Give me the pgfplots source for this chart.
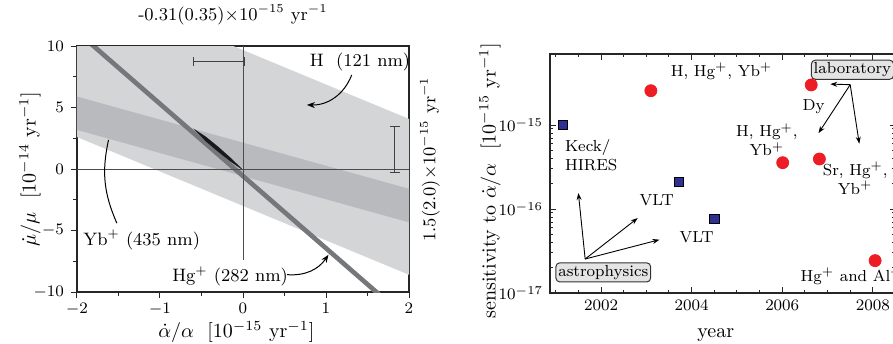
\documentclass[border=0pt]{standalone}
\usepackage{pgfplots}
\pgfplotsset{compat=1.18}
\usetikzlibrary{arrows.meta}
\definecolor{lightband}{HTML}{D4D5D7}
\definecolor{midband}{HTML}{B9BABD}
\definecolor{hgband}{HTML}{76777A}
\definecolor{dotred}{HTML}{EE1C25}
\definecolor{sqblue}{HTML}{2E3192}
\definecolor{boxfill}{HTML}{E4E4E4}
\begin{document}
\begin{tikzpicture}[x=1pt,y=1pt]
\useasboundingbox (0,0) rectangle (446.5,171.5);
% ---------------- left panel ----------------
\begin{axis}[
  at={(38.5pt,25.5pt)}, anchor=south west,
  scale only axis, width=166pt, height=123pt,
  xmin=-2, xmax=2, ymin=-10, ymax=10,
  xtick={-2,-1,0,1,2}, ytick={-10,-5,0,5,10},
  minor x tick num=1, minor y tick num=1,
  tick align=outside, xtick pos=bottom, ytick pos=left,
  major tick length=3pt, minor tick length=2pt,
  axis line style={black!85, line width=0.6pt},
  every tick/.style={black!85, line width=0.5pt},
  tick label style={font=\fontsize{8}{9}\selectfont},
  xticklabel style={yshift=1pt},
  xlabel={$\dot{\alpha}/\alpha$\ \ [10$^{-15}$ yr$^{-1}$]},
  ylabel={$\dot{\mu}/\mu$\ \ [10$^{-14}$ yr$^{-1}$]},
  label style={font=\fontsize{10}{12}\selectfont},
  xlabel style={at={(axis description cs:0.48,0)}, anchor=base, yshift=-22.8pt},
  ylabel style={at={(axis description cs:0,0.5)}, anchor=center, yshift=23.5pt},
  clip mode=individual,
]
% H band
\addplot[fill=lightband, draw=none] coordinates {(-2,15.27) (2,4.07) (2,-8.6) (-2,2.6)} -- cycle;
% Yb band
\addplot[fill=midband, draw=none] coordinates {(-2,5.89) (2,-1.61) (2,-4.34) (-2,3.18)} -- cycle;
% Hg band
\addplot[fill=hgband, draw=none] coordinates {(-2.2,12.59) (2,-12.06) (2,-12.56) (-2.2,12.09)} -- cycle;
% combined constraint
\addplot[fill=black!90, draw=none] coordinates {(-0.6,3.3) (-0.45,2.64) (-0.3,1.82) (-0.15,0.92) (0.02,-0.2) (-0.15,0.6) (-0.3,1.4) (-0.45,2.26)} -- cycle;
% zero lines
\addplot[black!70, line width=0.5pt] coordinates {(-2,0) (2,0)};
\addplot[black!70, line width=0.5pt] coordinates {(0,-7.4) (0,10)};
% error bars
\addplot[black!75, line width=0.6pt] coordinates {(-0.6,8.73) (0.02,8.73)};
\addplot[black!75, line width=0.6pt] coordinates {(-0.6,8.38) (-0.6,9.08)};
\addplot[black!75, line width=0.6pt] coordinates {(0.02,8.38) (0.02,9.08)};
\addplot[black!75, line width=0.6pt] coordinates {(1.83,-0.31) (1.83,3.45)};
\addplot[black!75, line width=0.6pt] coordinates {(1.77,3.45) (1.89,3.45)};
\addplot[black!75, line width=0.6pt] coordinates {(1.77,-0.31) (1.89,-0.31)};
% labels
\node[font=\fontsize{9}{10}\selectfont] at (axis cs:1.41,8.73) {H\ \ (121 nm)};
\node[font=\fontsize{9}{10}\selectfont] at (axis cs:-1.22,-5.75) {Yb$^+$ (435 nm)};
\node[font=\fontsize{9}{10}\selectfont] at (axis cs:-0.155,-8.73) {Hg$^+$ (282 nm)};
\draw[-{Stealth[length=4pt,width=3pt]}, line width=0.5pt] (axis cs:1.31,7.65) to[bend left=35] (axis cs:0.77,5.21);
\draw[line width=0.5pt] (axis cs:-1.52,-4.40) to[bend left=18] (axis cs:-1.62,2.37);
\draw[-{Stealth[length=4pt,width=3pt]}, line width=0.5pt] (axis cs:0.53,-8.59) to[bend right=30] (axis cs:1.03,-6.97);
\node[font=\fontsize{9}{10}\selectfont] at (axis description cs:0.47,1) [yshift=15.5pt] {-0.31(0.35)$\times$10$^{-15}$ yr$^{-1}$};
\node[font=\fontsize{9}{10}\selectfont, rotate=90] at (axis description cs:1,0.54) [yshift=-10.5pt] {1.5(2.0)$\times$10$^{-15}$ yr$^{-1}$};
\end{axis}
% ---------------- right panel ----------------
\begin{axis}[
  at={(275pt,25pt)}, anchor=south west,
  scale only axis, width=172.75pt, height=119.5pt,
  xmin=2000.874, xmax=2008.5, ymode=log, ymin=1e-17, ymax=7e-15,
  xtick={2002,2004,2006,2008},
  minor xtick={2001,2001.5,...,2008.5},
  ytick={1e-17,1e-16,1e-15},
  xticklabel style={/pgf/number format/1000 sep={}},
  tick align=inside,
  major tick length=3pt, minor tick length=1.6pt,
  axis line style={black!85, line width=0.6pt},
  every tick/.style={black!85, line width=0.5pt},
  tick label style={font=\fontsize{8}{9}\selectfont},
  xlabel={year},
  ylabel={sensitivity to $\dot{\alpha}/\alpha$\ \ [10$^{-15}$ yr$^{-1}$]},
  label style={font=\fontsize{10}{12}\selectfont},
  xlabel style={at={(axis description cs:0.48,0)}, anchor=base, yshift=-22pt},
  ylabel style={at={(axis description cs:0,0.47)}, anchor=center, yshift=30pt},
  clip=false,
]
% astrophysics
\addplot[only marks, mark=square*, mark size=2.3pt, mark options={fill=sqblue, draw=black, line width=0.3pt}]
  coordinates {(2001.15,1.0e-15) (2003.71,2.13e-16) (2004.50,7.7e-17)};
% laboratory
\addplot[dotred, only marks, mark=*, mark size=3pt, mark options={fill=dotred, draw=dotred}]
  coordinates {(2003.10,2.56e-15) (2006.64,3.0e-15) (2006.01,3.56e-16) (2006.82,3.94e-16) (2008.05,2.43e-17)};
\begin{scope}[font=\fontsize{8}{9.5}\selectfont]
\node[anchor=west, align=left] at (axis cs:2001.05,4.4e-16) {Keck/\\HIRES};
\node at (axis cs:2003.23,1.29e-16) {VLT};
\node at (axis cs:2004.11,4.59e-17) {VLT};
\node at (axis cs:2004.66,4.35e-15) {H, Hg$^+$, Yb$^+$};
\node at (axis cs:2006.69,1.66e-15) {Dy};
\node[align=center] at (axis cs:2005.66,6.68e-16) {H, Hg$^+$,\\Yb$^+$};
\node[align=center] at (axis cs:2007.61,2.34e-16) {Sr, Hg$^+$,\\Yb$^+$};
\node at (axis cs:2007.53,1.58e-17) {Hg$^+$ and Al$^+$};
\node[draw=black!80, fill=boxfill, rounded corners=2pt, inner sep=1.2pt, line width=0.5pt] at (axis cs:2002.05,1.76e-17) {astrophysics};
\node[draw=black!80, fill=boxfill, rounded corners=2pt, inner sep=1.2pt, line width=0.5pt] at (axis cs:2007.55,4.55e-15) {laboratory};
\end{scope}
\begin{scope}[-{Stealth[length=3.5pt,width=2.5pt]}, line width=0.45pt]
\draw (axis cs:2001.65,2.54e-17) -- (axis cs:2001.50,1.55e-16);
\draw (axis cs:2001.65,2.54e-17) -- (axis cs:2002.81,7.8e-17);
\draw (axis cs:2001.65,2.54e-17) -- (axis cs:2003.29,4.31e-17);
\draw (axis cs:2007.50,3.02e-15) -- (axis cs:2007.06,3.07e-15);
\draw (axis cs:2007.50,3.02e-15) -- (axis cs:2006.80,8.0e-16);
\draw (axis cs:2007.50,3.02e-15) -- (axis cs:2007.70,5.99e-16);
\end{scope}
\end{axis}
\end{tikzpicture}
\end{document}
